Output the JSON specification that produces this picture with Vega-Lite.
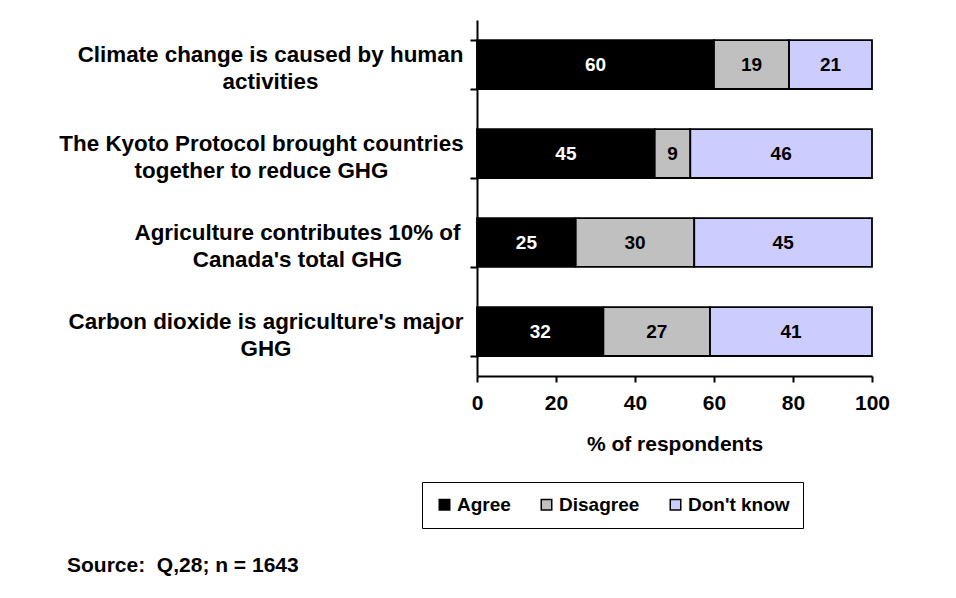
{
  "$schema": "https://vega.github.io/schema/vega-lite/v6.json",
  "width": 395,
  "height": 356,
  "autosize": {"type": "none"},
  "padding": {"left": 477, "top": 20, "right": 84, "bottom": 222},
  "background": "white",
  "title": {
    "text": "Source:\u00a0 Q,28; n = 1643",
    "orient": "bottom",
    "anchor": "start",
    "frame": "group",
    "dx": -410,
    "offset": 26,
    "font": "Liberation Sans",
    "fontSize": 21,
    "fontWeight": "bold",
    "color": "black"
  },
  "data": {
    "values": [
      {"question": "Climate change is caused by human\nactivities", "response": "Agree", "value": 60},
      {"question": "Climate change is caused by human\nactivities", "response": "Disagree", "value": 19},
      {"question": "Climate change is caused by human\nactivities", "response": "Don't know", "value": 21},
      {"question": "The Kyoto Protocol brought countries\ntogether to reduce GHG", "response": "Agree", "value": 45},
      {"question": "The Kyoto Protocol brought countries\ntogether to reduce GHG", "response": "Disagree", "value": 9},
      {"question": "The Kyoto Protocol brought countries\ntogether to reduce GHG", "response": "Don't know", "value": 46},
      {"question": "Agriculture contributes 10% of\nCanada's total GHG", "response": "Agree", "value": 25},
      {"question": "Agriculture contributes 10% of\nCanada's total GHG", "response": "Disagree", "value": 30},
      {"question": "Agriculture contributes 10% of\nCanada's total GHG", "response": "Don't know", "value": 45},
      {"question": "Carbon dioxide is agriculture's major\nGHG", "response": "Agree", "value": 32},
      {"question": "Carbon dioxide is agriculture's major\nGHG", "response": "Disagree", "value": 27},
      {"question": "Carbon dioxide is agriculture's major\nGHG", "response": "Don't know", "value": 41}
    ]
  },
  "encoding": {
    "y": {
      "field": "question",
      "type": "nominal",
      "sort": null,
      "scale": {"paddingInner": 0.45, "paddingOuter": 0.225},
      "axis": {
        "title": null,
        "labelExpr": "split(datum.label, '\\n')",
        "labelAlign": "center",
        "labelBaseline": "middle",
        "labelPadding": {
          "condition": [
            {"test": "datum.value == 'The Kyoto Protocol brought countries\\ntogether to reduce GHG'", "value": 209},
            {"test": "datum.value == 'Agriculture contributes 10% of\\nCanada\\'s total GHG'", "value": 173},
            {"test": "datum.value == 'Carbon dioxide is agriculture\\'s major\\nGHG'", "value": 204.5}
          ],
          "value": 200
        },
        "labelOffset": -10,
        "labelLineHeight": 27,
        "labelFont": "Liberation Sans",
        "labelFontSize": 22.4,
        "labelFontWeight": "bold",
        "labelColor": "black",
        "labelLimit": 0,
        "tickBand": "extent",
        "tickSize": 7,
        "tickWidth": 2,
        "tickColor": "black",
        "domainColor": "black",
        "domainWidth": 2,
        "grid": false
      }
    },
    "x": {
      "field": "value",
      "type": "quantitative",
      "stack": "zero",
      "scale": {"domain": [0, 100], "nice": false},
      "axis": {
        "title": "% of respondents",
        "values": [0, 20, 40, 60, 80, 100],
        "labelFlush": false,
        "grid": false,
        "tickSize": 6,
        "tickWidth": 2,
        "tickColor": "black",
        "domainColor": "black",
        "domainWidth": 2,
        "labelFont": "Liberation Sans",
        "labelFontSize": 21,
        "labelFontWeight": "bold",
        "labelColor": "black",
        "labelPadding": 10,
        "titleFont": "Liberation Sans",
        "titleFontSize": 21,
        "titleFontWeight": "bold",
        "titleColor": "black",
        "titlePadding": 20
      }
    },
    "order": {"field": "response", "type": "nominal"}
  },
  "layer": [
    {
      "mark": {"type": "bar", "stroke": "black", "strokeWidth": 1.8, "opacity": 1},
      "encoding": {
        "color": {
          "field": "response",
          "type": "nominal",
          "scale": {"domain": ["Agree", "Disagree", "Don't know"], "range": ["#000000", "#C0C0C0", "#CCCCFF"]},
          "legend": {
            "orient": "none",
            "legendX": -55,
            "legendY": 462,
            "direction": "horizontal",
            "title": null,
            "strokeColor": "black",
            "padding": 13,
            "symbolType": "square",
            "symbolSize": 110,
            "symbolStrokeColor": "black",
            "symbolStrokeWidth": 1.5,
            "symbolOpacity": 1,
            "labelFont": "Liberation Sans",
            "labelFontSize": 19,
            "labelFontWeight": "bold",
            "labelColor": "black",
            "labelOffset": 3,
            "columnPadding": 26
          }
        }
      }
    },
    {
      "mark": {"type": "text", "font": "Liberation Sans", "fontSize": 19, "fontWeight": "bold", "baseline": "middle", "align": "center", "letterSpacing": 1},
      "encoding": {
        "x": {"field": "value", "type": "quantitative", "stack": "zero", "bandPosition": 0.5},
        "text": {"field": "value", "type": "quantitative"},
        "detail": {"field": "response"},
        "color": {
          "condition": {"test": "datum.response == 'Agree'", "value": "white"},
          "value": "black"
        }
      }
    }
  ],
  "config": {"view": {"stroke": null}}
}
